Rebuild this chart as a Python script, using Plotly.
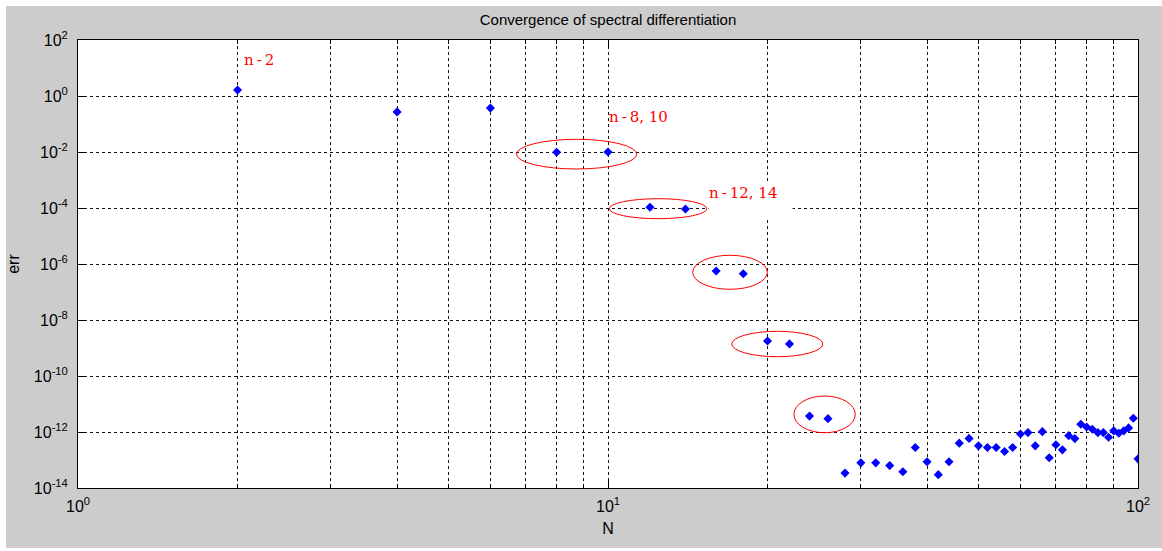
import numpy as np
import plotly.graph_objects as go

# ---- data ----
N = list(range(2, 101, 2))
err = [1.64, 0.27, 0.37, 9.8e-3, 1.0e-2, 1.06e-4, 9.2e-5, 5.6e-7, 4.5e-7, 1.78e-9,
       1.4e-9, 3.7e-12, 3.0e-12, 3.4e-14, 7.9e-14, 7.9e-14, 6.3e-14, 3.8e-14, 2.8e-13, 8.7e-14,
       3.0e-14, 8.7e-14, 4.0e-13, 5.9e-13, 3.2e-13, 2.8e-13, 2.8e-13, 2.0e-13, 2.8e-13, 8.5e-13,
       9.5e-13, 3.2e-13, 1.03e-12, 1.2e-13, 3.5e-13, 2.3e-13, 7.4e-13, 5.8e-13, 1.9e-12, 1.5e-12,
       1.26e-12, 9.5e-13, 9.5e-13, 6.5e-13, 1.1e-12, 9.0e-13, 1.1e-12, 1.4e-12, 3.1e-12, 1.1e-13]

x_tick_vals = [1, 10, 100]
x_tick_text = ["10<sup>0</sup>", "10<sup>1</sup>", "10<sup>2</sup>"]
x_minor_vals = [2, 3, 4, 5, 6, 7, 8, 9, 20, 30, 40, 50, 60, 70, 80, 90]
y_exponents = list(range(2, -15, -2))
y_tick_vals = [10.0 ** e for e in y_exponents]
y_tick_text = ["10<sup>%d</sup>" % e for e in y_exponents]

# ellipses around pairs (data coordinates)
ell_x0 = [6.72, 10.06, 14.45, 17.12, 22.43]
ell_x1 = [11.33, 15.36, 19.98, 25.42, 29.28]
ell_y0 = [2.47e-3, 4.15e-5, 1.25e-7, 4.89e-10, 9.4e-13]
ell_y1 = [2.84e-2, 2.15e-4, 2.05e-6, 3.95e-9, 1.93e-11]

# labels (data coordinates)
label_text = ["n\u2009-\u20092", "n\u2009-\u20098, 10", "n\u2009-\u200912, 14"]
label_x = [2.04, 9.95, 15.45]
label_y = [19.3, 0.178, 7.8e-4]

W, H = 1162, 551
L, R, T, B = 78, 24, 40, 63
pw, ph = W - L - R, H - T - B

fig = go.Figure()
fig.add_trace(go.Scatter(
    x=N, y=err, mode="markers",
    marker=dict(symbol="diamond", size=7, color="#0000ff", line=dict(width=0)),
    showlegend=False,
))

# gray figure background with thin white edge, then white plot area
fig.add_shape(type="rect", xref="paper", yref="paper", layer="below",
              x0=(6 - L) / pw, x1=(W - L) / pw, y0=(H - B - 548) / ph, y1=(H - B - 6) / ph,
              fillcolor="#cccccc", line=dict(width=0))
fig.add_shape(type="rect", xref="paper", yref="paper", layer="below",
              x0=0, x1=1, y0=0, y1=1, fillcolor="white", line=dict(width=0))

for a, b, c, d in zip(ell_x0, ell_x1, ell_y0, ell_y1):
    fig.add_shape(type="circle", xref="x", yref="y", x0=a, x1=b, y0=c, y1=d,
                  line=dict(color="#ff0000", width=1), layer="above")

lab_font = dict(family="DejaVu Serif", size=15, color="#ff0000")
for i, (t, xv, yv) in enumerate(zip(label_text, label_x, label_y)):
    if i < 2:
        fig.add_annotation(x=np.log10(xv), y=np.log10(yv), xref="x", yref="y",
                           text=t, showarrow=False, xanchor="left", yanchor="middle",
                           font=lab_font)
    else:
        fig.add_annotation(x=np.log10(xv), y=np.log10(yv), xref="x", yref="y",
                           text=t, showarrow=False, xanchor="left", yanchor="top",
                           font=lab_font, bgcolor="white", width=83, height=34,
                           align="left", valign="top", borderpad=0)

grid = dict(showgrid=True, gridcolor="#111111", gridwidth=1, griddash="3px,3px")
tickfont = dict(family="Liberation Sans", size=16, color="#000000")

fig.update_xaxes(
    type="log", range=[0, 2], tickmode="array", tickvals=x_tick_vals, ticktext=x_tick_text,
    ticks="inside", ticklen=7, tickcolor="black", showline=True, linecolor="black",
    linewidth=1, mirror="ticks", tickfont=tickfont, ticklabelstandoff=4,
    minor=dict(tickmode="array", tickvals=x_minor_vals, ticks="inside", ticklen=4,
               tickcolor="black", **grid),
    title=dict(text="N", font=dict(family="Liberation Sans", size=16, color="black"),
               standoff=8),
    zeroline=False, **grid,
)
fig.update_yaxes(
    type="log", range=[-14, 2], tickmode="array", tickvals=y_tick_vals, ticktext=y_tick_text,
    ticks="inside", ticklen=7, tickcolor="black", showline=True, linecolor="black",
    linewidth=1, mirror="ticks", tickfont=tickfont, ticklabelstandoff=6,
    title=dict(text="err", font=dict(family="Liberation Sans", size=16, color="black"),
               standoff=10),
    zeroline=False, **grid,
)

fig.update_layout(
    width=W, height=H,
    margin=dict(l=L, r=R, t=T, b=B),
    paper_bgcolor="white", plot_bgcolor="rgba(0,0,0,0)",
    title=dict(text="Convergence of spectral differentiation", x=0.5, xref="paper",
               xanchor="center", y=1 - 20 / H, yanchor="middle",
               font=dict(family="Liberation Sans", size=15, color="black")),
)

fig.write_html("out.html")
